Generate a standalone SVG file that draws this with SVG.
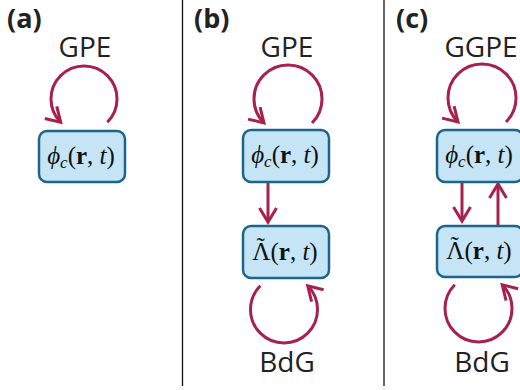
<svg xmlns="http://www.w3.org/2000/svg" width="520" height="390" viewBox="0 0 520 390">
<style>
.lbl{font-family:"Open Sans","DejaVu Sans",sans-serif;font-weight:bold;font-size:27px;fill:#222}
.eq{font-family:"Open Sans","Liberation Sans",sans-serif;font-size:28px;fill:#222;text-anchor:middle}
.box{fill:#c5e5f7;stroke:#1d6489;stroke-width:2.5}
.math{font-family:"Liberation Serif","DejaVu Serif",serif;font-size:25px;fill:#111;text-anchor:middle}
.it{font-style:italic}
.b{font-weight:bold}
.arr{fill:none;stroke:#a8204c;stroke-width:3}
.div{stroke:#111;stroke-width:1.3}
</style>
<defs>
<marker id="ah" markerUnits="userSpaceOnUse" markerWidth="30" markerHeight="30" refX="0" refY="0" viewBox="-20 -15 30 30" orient="auto" overflow="visible">
<path d="M-14,-8.5 L0,0 L-14,8.5" fill="none" stroke="#a8204c" stroke-width="3"/>
</marker>
</defs>
<rect width="520" height="390" fill="#fff"/>
<line class="div" x1="182.5" y1="0" x2="182.5" y2="386"/>
<line class="div" x1="384" y1="0" x2="384" y2="386"/>
<text class="lbl" x="7" y="28">(a)</text>
<text class="lbl" x="194" y="28">(b)</text>
<text class="lbl" x="396" y="28">(c)</text>
<text class="eq" x="85" y="57">GPE</text>
<text class="eq" x="287" y="57">GPE</text>
<text class="eq" x="481" y="57">GGPE</text>
<text class="eq" x="287" y="372">BdG</text>
<text class="eq" x="482" y="372">BdG</text>
<g id="connectors">
<path class="arr" d="M107.3,122.3 A33,33 0 1 0 60.7,122.3" marker-end="url(#ah)"/>
<path class="arr" d="M312,123 A34,34 0 1 0 264,123" marker-end="url(#ah)"/>
<path class="arr" d="M506,122 A34,34 0 1 0 458,122" marker-end="url(#ah)"/>
<path class="arr" d="M260.3,285.8 A33.5,33.5 0 1 0 307.7,285.8" marker-end="url(#ah)"/>
<path class="arr" d="M454.8,284.8 A33.5,33.5 0 1 0 502.2,284.8" marker-end="url(#ah)"/>
<path class="arr" d="M268,183 L268,222" marker-end="url(#ah)"/>
<path class="arr" d="M462,183 L462,221" marker-end="url(#ah)"/>
<path class="arr" d="M498,226 L498,184" marker-end="url(#ah)"/>
</g>
<g id="a-phi">
<rect class="box" x="39" y="131" width="86" height="51" rx="8"/>
<text class="math" x="81" y="164"><tspan class="it">ϕ</tspan><tspan class="it" font-size="17" dy="4">c</tspan><tspan dy="-4">(</tspan><tspan class="b">r</tspan>, <tspan class="it">t</tspan>)</text>
</g>
<g id="b-phi">
<rect class="box" x="243" y="130" width="86" height="52" rx="8"/>
<text class="math" x="285" y="163"><tspan class="it">ϕ</tspan><tspan class="it" font-size="17" dy="4">c</tspan><tspan dy="-4">(</tspan><tspan class="b">r</tspan>, <tspan class="it">t</tspan>)</text>
</g>
<g id="b-lambda">
<rect class="box" x="243" y="226" width="86" height="52" rx="8"/>
<text class="math" x="285" y="260">Λ<tspan dx="-14" dy="-5">˜</tspan><tspan dx="5.7" dy="5">(</tspan><tspan class="b">r</tspan>, <tspan class="it">t</tspan>)</text>
</g>
<g id="c-phi">
<rect class="box" x="437" y="130" width="86" height="52" rx="8"/>
<text class="math" x="479" y="163"><tspan class="it">ϕ</tspan><tspan class="it" font-size="17" dy="4">c</tspan><tspan dy="-4">(</tspan><tspan class="b">r</tspan>, <tspan class="it">t</tspan>)</text>
</g>
<g id="c-lambda">
<rect class="box" x="437" y="226" width="86" height="51" rx="8"/>
<text class="math" x="479" y="259">Λ<tspan dx="-14" dy="-5">˜</tspan><tspan dx="5.7" dy="5">(</tspan><tspan class="b">r</tspan>, <tspan class="it">t</tspan>)</text>
</g>
</svg>
